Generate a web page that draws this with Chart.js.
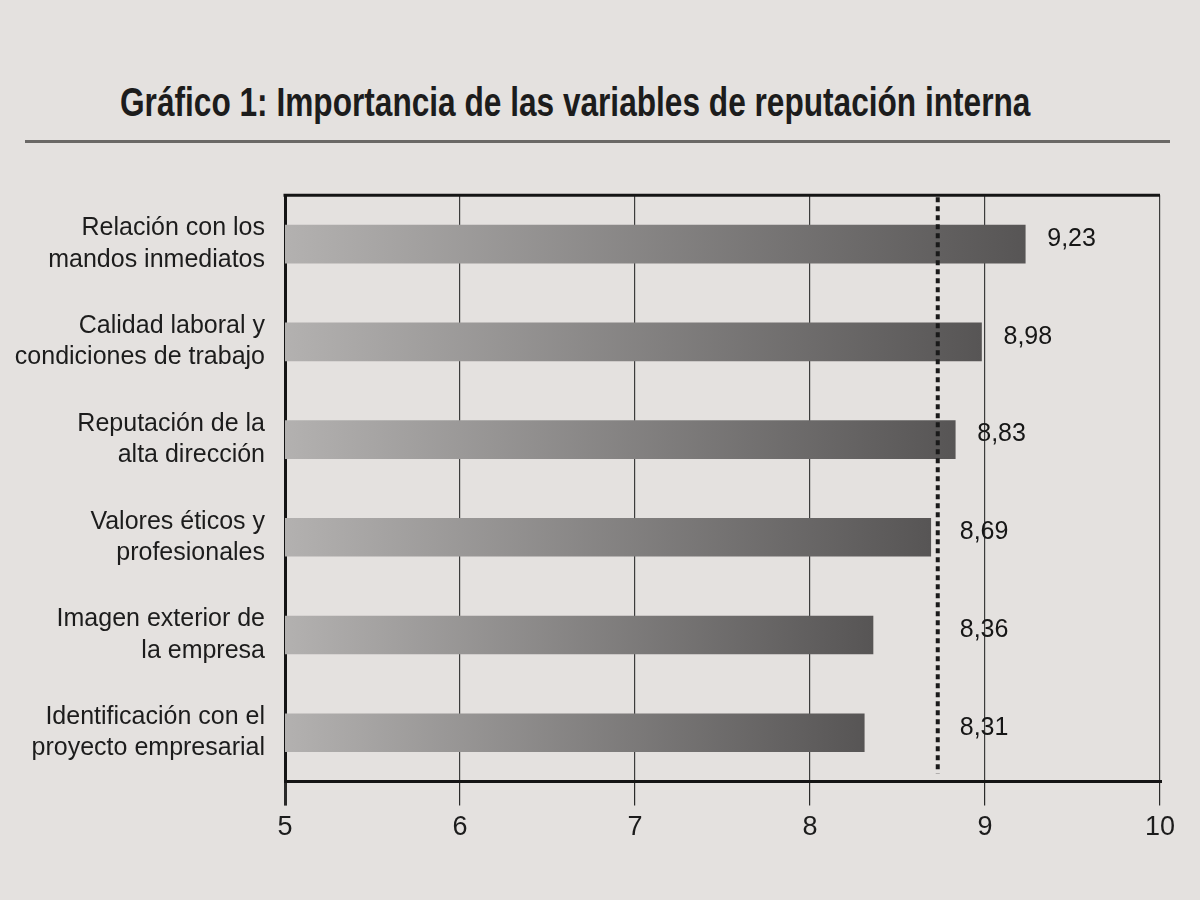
<!DOCTYPE html>
<html lang="es">
<head>
<meta charset="utf-8">
<title>Gráfico 1</title>
<script src="https://cdn.jsdelivr.net/npm/chart.js@4/dist/chart.umd.min.js"></script>
<style>
    body {
        margin: 0;
        width: 1200px;
        height: 900px;
        background: #e4e1df;
        position: relative;
        overflow: hidden;
        font-family: 'Liberation Sans', Arial, sans-serif;
    }
    #titulo {
        position: absolute;
        left: 120px;
        top: 80px;
        font-family: 'Liberation Sans', Arial, sans-serif;
        font-weight: bold;
        font-size: 40px;
        color: #1c1c1c;
        white-space: nowrap;
        transform-origin: left top;
    }
    #regla {
        position: absolute;
        left: 25px;
        top: 140px;
        width: 1145px;
        height: 3px;
        background: #6a6866;
    }
    #marco {
        position: absolute;
        left: 0;
        top: 152px;
        width: 1200px;
        height: 738px;
    }
</style>
</head>
<body>
<div id="titulo">Gráfico 1: Importancia de las variables de reputación interna</div>
<div id="regla"></div>
<div id="marco"><canvas id="grafico"></canvas></div>

<script>
// Datos del gráfico
const categorias = [
    ['Relación con los', 'mandos inmediatos'],
    ['Calidad laboral y', 'condiciones de trabajo'],
    ['Reputación de la', 'alta dirección'],
    ['Valores éticos y', 'profesionales'],
    ['Imagen exterior de', 'la empresa'],
    ['Identificación con el', 'proyecto empresarial']
];
const valores = [9.23, 8.98, 8.83, 8.69, 8.36, 8.31];
const ticksEje = [5, 6, 7, 8, 9, 10];
const media = 8.73; // línea punteada

// Título estrecho: se comprime a lo ancho (no hay fuente condensada)
const titulo = document.getElementById('titulo');
titulo.style.transform = 'scaleX(' + (910 / titulo.offsetWidth) + ')';

// Degradado de cada barra: claro a la izquierda, oscuro al final
function colorBarra(context) {
    const chart = context.chart;
    if (!chart.chartArea || !chart.scales.x) {
        return '#8a8888';
    }
    const x0 = chart.scales.x.getPixelForValue(ticksEje[0]);
    const x1 = chart.scales.x.getPixelForValue(context.raw);
    const g = chart.ctx.createLinearGradient(x0, 0, x1, 0);
    g.addColorStop(0, '#b3b1b0');
    g.addColorStop(1, '#575555');
    return g;
}

// Borde superior del recuadro, línea de la media y etiquetas de valor
const extras = {
    id: 'extras',
    afterDatasetsDraw(chart) {
        const ctx = chart.ctx;
        const area = chart.chartArea;
        const x = chart.scales.x;
        const y = chart.scales.y;

        ctx.save();
        ctx.strokeStyle = '#141414';
        ctx.lineWidth = 3;
        ctx.beginPath();
        ctx.moveTo(area.left - 1.5, area.top);
        ctx.lineTo(area.right, area.top);
        ctx.stroke();

        const xm = x.getPixelForValue(media);
        ctx.setLineDash([5, 4]);
        ctx.lineWidth = 4;
        ctx.strokeStyle = '#1a1a1a';
        ctx.beginPath();
        ctx.moveTo(xm, area.top + 2);
        ctx.lineTo(xm, area.bottom - 8);
        ctx.stroke();
        ctx.setLineDash([]);

        ctx.fillStyle = '#161616';
        ctx.font = '25px "Liberation Sans", Arial, sans-serif';
        ctx.textAlign = 'left';
        ctx.textBaseline = 'middle';
        valores.forEach((v, i) => {
            const px = x.getPixelForValue(Math.max(v, media)) + 22;
            const py = y.getPixelForValue(i) - 5;
            ctx.fillText(v.toFixed(2).replace('.', ','), px, py);
        });
        ctx.restore();
    }
};

const ctx = document.getElementById('grafico').getContext('2d');
const grafico = new Chart(ctx, {
    type: 'bar',
    data: {
        labels: categorias,
        datasets: [{
            data: valores,
            backgroundColor: colorBarra,
            borderWidth: 0,
            barThickness: 38
        }]
    },
    options: {
        indexAxis: 'y',
        responsive: true,
        maintainAspectRatio: false,
        animation: false,
        layout: {
            padding: { top: 6, right: 40, bottom: 40, left: 0 }
        },
        plugins: {
            legend: { display: false },
            tooltip: { enabled: false }
        },
        scales: {
            x: {
                min: 5,
                max: 10,
                afterBuildTicks: function(scale) {
                    scale.ticks = ticksEje.map(v => ({ value: v }));
                },
                border: { display: true, width: 3, color: '#141414' },
                grid: {
                    color: '#3c3c3c',
                    lineWidth: c => (c.tick && c.tick.value === 5 ? 3 : 1.2),
                    drawTicks: true,
                    tickLength: 24,
                    tickColor: '#2a2a2a'
                },
                ticks: {
                    color: '#1c1c1c',
                    padding: 6,
                    font: { family: 'Liberation Sans', size: 27 }
                }
            },
            y: {
                afterFit: function(scale) {
                    scale.width = 285;
                },
                border: { display: true, width: 3, color: '#141414' },
                grid: { display: false },
                ticks: {
                    color: '#1c1c1c',
                    padding: 12,
                    font: { family: 'Liberation Sans', size: 25, lineHeight: 1.25 }
                }
            }
        }
    },
    plugins: [extras]
});
</script>
</body>
</html>
